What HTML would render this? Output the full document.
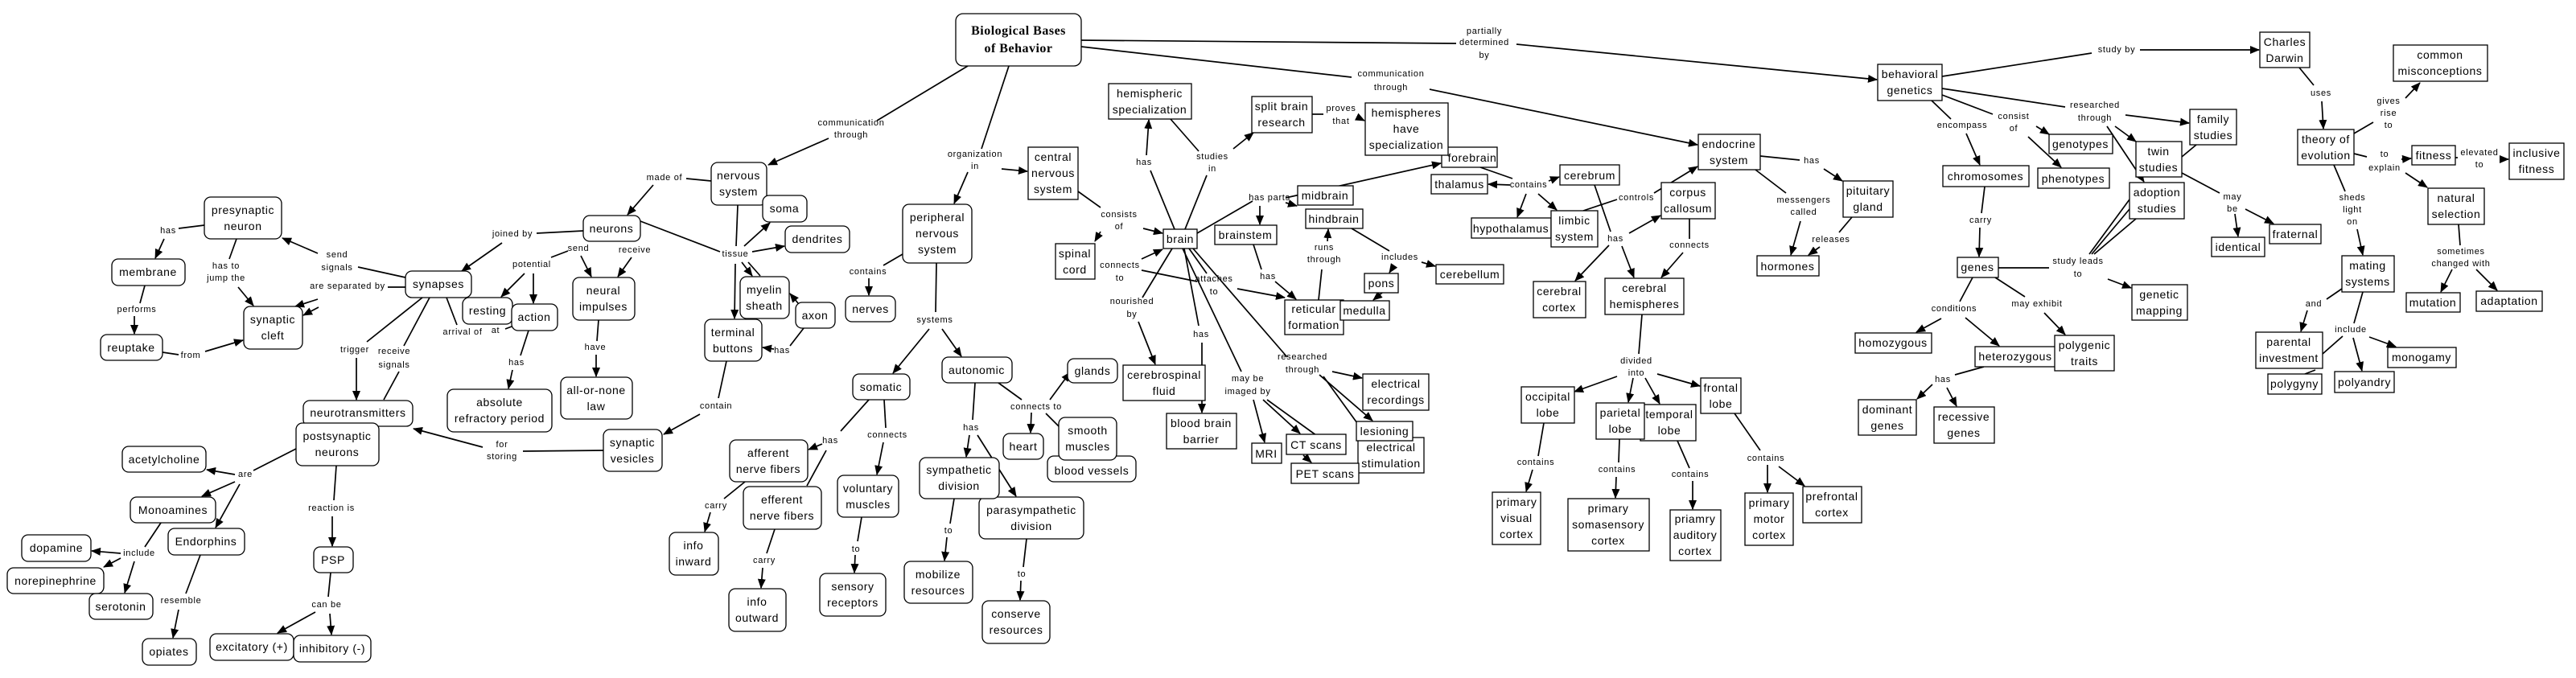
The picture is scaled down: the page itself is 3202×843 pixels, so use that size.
<!DOCTYPE html>
<html><head><meta charset="utf-8"><style>
html,body{margin:0;padding:0;background:#fff;}
svg{display:block;}
.l{stroke:#000;stroke-width:1.7;fill:none;}
.a{stroke:#000;stroke-width:1.7;fill:none;marker-end:url(#ar);}
.r,.s{fill:#fff;stroke:#000;stroke-width:1.3;}
.n{font-family:"Liberation Sans",sans-serif;font-size:14px;letter-spacing:0.6px;text-anchor:middle;dominant-baseline:central;fill:#000;}
.t{font-family:"Liberation Sans",sans-serif;font-size:11px;letter-spacing:0.7px;text-anchor:middle;dominant-baseline:central;fill:#000;}
.b{font-family:"Liberation Serif",serif;font-size:16px;font-weight:bold;letter-spacing:0.5px;text-anchor:middle;dominant-baseline:central;}
</style></head><body>
<svg width="3202" height="843" viewBox="0 0 3202 843" xmlns="http://www.w3.org/2000/svg">
<defs><marker id="ar" markerUnits="userSpaceOnUse" markerWidth="12" markerHeight="10" refX="11" refY="5" orient="auto"><path d="M0,0 L12,5 L0,10 z" fill="#000"/></marker></defs>
<rect width="3202" height="843" fill="#fff"/>
<!-- edges -->
<path class="l" d="M1203,82 L1090,150"/><path class="a" d="M1030,172 L955,205"/>
<path class="l" d="M1254,82 L1220,185"/><path class="a" d="M1203,214 L1186,253"/><path class="a" d="M1245,210 L1277,213"/>
<path class="l" d="M1344,50 L1810,54"/><path class="a" d="M1885,55 L2333,99"/>
<path class="l" d="M1344,58 L1680,96"/><path class="a" d="M1777,111 L2110,180"/>
<path class="l" d="M884,225 L853,222"/><path class="a" d="M812,230 L780,267"/>
<path class="l" d="M796,275 L895,313"/><path class="l" d="M917,255 L915,306"/>
<path class="a" d="M925,306 L957,277"/><path class="a" d="M935,313 L975,306"/><path class="a" d="M922,326 L935,343"/><path class="a" d="M914,328 L913,396"/><path class="l" d="M930,326 L945,343"/>
<path class="a" d="M992,377 L982,365"/><path class="l" d="M999,408 L982,430"/><path class="a" d="M962,434 L948,432"/>
<path class="l" d="M725,287 L667,290"/><path class="a" d="M624,302 L574,337"/>
<path class="a" d="M722,318 L735,344"/><path class="a" d="M785,320 L768,344"/><path class="l" d="M706,312 L685,320"/>
<path class="a" d="M652,340 L623,369"/><path class="a" d="M663,340 L663,377"/>
<path class="l" d="M657,411 L647,442"/><path class="a" d="M637,460 L632,483"/>
<path class="l" d="M744,398 L742,424"/><path class="a" d="M741,441 L741,468"/>
<path class="l" d="M555,370 L568,404"/><path class="l" d="M628,409 L636,406"/>
<path class="l" d="M903,449 L893,495"/><path class="a" d="M870,515 L825,540"/>
<path class="l" d="M750,560 L650,561"/><path class="a" d="M600,556 L514,533"/>
<path class="l" d="M504,345 L445,332"/><path class="a" d="M395,315 L351,296"/>
<path class="l" d="M504,357 L482,357"/><path class="a" d="M395,372 L367,381"/><path class="a" d="M396,382 L377,392"/>
<path class="l" d="M254,280 L222,284"/><path class="a" d="M204,297 L193,321"/>
<path class="l" d="M294,297 L285,322"/><path class="a" d="M296,357 L315,380"/>
<path class="l" d="M180,355 L174,377"/><path class="a" d="M167,393 L167,415"/>
<path class="l" d="M202,438 L222,441"/><path class="a" d="M255,437 L302,423"/>
<path class="l" d="M525,370 L456,425"/><path class="a" d="M443,445 L443,497"/>
<path class="l" d="M534,370 L502,430"/><path class="l" d="M496,462 L477,497"/>
<path class="l" d="M368,558 L315,585"/><path class="a" d="M292,590 L257,584"/><path class="a" d="M292,599 L251,617"/><path class="a" d="M298,602 L268,656"/>
<path class="l" d="M200,650 L180,680"/><path class="a" d="M150,688 L114,685"/><path class="a" d="M150,694 L129,705"/><path class="a" d="M167,698 L155,737"/>
<path class="l" d="M249,690 L231,738"/><path class="a" d="M222,758 L215,793"/>
<path class="l" d="M418,579 L415,622"/><path class="a" d="M413,642 L413,679"/>
<path class="l" d="M411,712 L408,742"/><path class="a" d="M392,761 L345,787"/><path class="a" d="M410,763 L412,789"/>
<path class="l" d="M1122,316 L1098,330"/><path class="a" d="M1080,346 L1080,367"/>
<path class="l" d="M1164,327 L1163,388"/><path class="a" d="M1155,409 L1110,464"/><path class="a" d="M1171,409 L1195,443"/>
<path class="l" d="M1080,497 L1045,536"/><path class="a" d="M1022,552 L1005,559"/><path class="l" d="M1027,560 L1003,604"/>
<path class="l" d="M1099,497 L1101,532"/><path class="a" d="M1098,550 L1090,590"/>
<path class="l" d="M1071,643 L1066,673"/><path class="a" d="M1063,690 L1062,712"/>
<path class="l" d="M926,599 L900,620"/><path class="a" d="M883,637 L876,661"/>
<path class="l" d="M963,658 L953,688"/><path class="a" d="M948,706 L946,731"/>
<path class="l" d="M1212,476 L1209,522"/><path class="a" d="M1205,541 L1201,568"/><path class="a" d="M1215,541 L1263,617"/>
<path class="l" d="M1241,476 L1270,497"/><path class="a" d="M1305,497 L1330,463"/><path class="a" d="M1282,513 L1281,538"/><path class="l" d="M1300,514 L1316,530"/>
<path class="l" d="M1186,620 L1181,651"/><path class="a" d="M1177,668 L1174,697"/>
<path class="l" d="M1276,670 L1272,705"/><path class="a" d="M1269,722 L1268,746"/>
<path class="l" d="M1340,238 L1368,258"/><path class="a" d="M1421,284 L1445,290"/><path class="a" d="M1368,288 L1361,300"/>
<path class="a" d="M1419,322 L1445,310"/>
<path class="l" d="M1460,285 L1430,212"/><path class="a" d="M1425,193 L1428,149"/>
<path class="l" d="M1455,148 L1490,188"/><path class="l" d="M1500,218 L1473,285"/><path class="a" d="M1533,185 L1558,165"/>
<path class="l" d="M1631,142 L1645,142"/><path class="a" d="M1690,147 L1696,150"/>
<path class="l" d="M1488,290 L1557,250"/><path class="a" d="M1598,246 L1791,203"/><path class="a" d="M1566,256 L1566,279"/><path class="a" d="M1598,252 L1612,256"/>
<path class="l" d="M1558,304 L1568,335"/><path class="a" d="M1585,350 L1611,372"/>
<path class="l" d="M1643,335 L1639,373"/><path class="a" d="M1650,300 L1651,285"/>
<path class="l" d="M1680,284 L1727,312"/><path class="a" d="M1733,330 L1727,339"/><path class="a" d="M1767,326 L1784,331"/><path class="a" d="M1718,364 L1707,373"/>
<path class="l" d="M1478,309 L1500,340"/><path class="l" d="M1419,336 L1488,350"/><path class="a" d="M1538,359 L1597,370"/>
<path class="l" d="M1483,309 L1600,444"/><path class="a" d="M1656,462 L1693,470"/><path class="a" d="M1640,466 L1706,523"/><path class="l" d="M1645,468 L1700,544"/>
<path class="l" d="M1470,309 L1543,462"/><path class="a" d="M1558,497 L1572,550"/><path class="a" d="M1570,497 L1616,539"/><path class="l" d="M1575,497 L1640,544"/><path class="a" d="M1620,566 L1630,575"/>
<path class="l" d="M1457,309 L1420,370"/><path class="a" d="M1415,400 L1436,453"/>
<path class="l" d="M1472,309 L1490,405"/><path class="a" d="M1494,426 L1494,513"/>
<path class="l" d="M1840,208 L1880,222"/><path class="a" d="M1877,230 L1850,229"/><path class="a" d="M1897,241 L1886,270"/><path class="a" d="M1912,241 L1935,261"/><path class="a" d="M1925,225 L1938,220"/>
<path class="l" d="M1982,230 L2002,288"/><path class="a" d="M2000,305 L1958,349"/><path class="a" d="M2016,306 L2031,345"/><path class="a" d="M2025,290 L2064,268"/>
<path class="l" d="M1968,262 L2010,248"/><path class="a" d="M2056,240 L2110,207"/>
<path class="l" d="M2100,272 L2100,297"/><path class="a" d="M2092,314 L2065,345"/>
<path class="l" d="M2041,391 L2037,440"/><path class="a" d="M2010,468 L1957,487"/><path class="a" d="M2030,470 L2024,500"/><path class="a" d="M2045,470 L2063,502"/><path class="a" d="M2060,465 L2113,480"/>
<path class="l" d="M1919,526 L1912,567"/><path class="a" d="M1905,584 L1897,611"/>
<path class="l" d="M2013,546 L2012,575"/><path class="a" d="M2009,593 L2008,619"/>
<path class="l" d="M2085,548 L2100,582"/><path class="a" d="M2104,598 L2104,633"/>
<path class="l" d="M2156,514 L2188,560"/><path class="a" d="M2197,578 L2197,612"/><path class="a" d="M2211,580 L2243,604"/>
<path class="l" d="M2188,194 L2237,199"/><path class="a" d="M2267,210 L2290,225"/>
<path class="l" d="M2182,211 L2220,240"/><path class="a" d="M2238,275 L2226,317"/>
<path class="l" d="M2302,270 L2286,289"/><path class="a" d="M2262,307 L2248,317"/>
<path class="l" d="M2414,95 L2600,66"/><path class="a" d="M2660,62 L2808,62"/>
<path class="l" d="M2401,125 L2425,148"/><path class="a" d="M2444,166 L2461,205"/>
<path class="l" d="M2414,118 L2477,142"/><path class="a" d="M2531,157 L2547,167"/><path class="a" d="M2521,170 L2562,208"/>
<path class="l" d="M2414,110 L2567,133"/><path class="a" d="M2642,143 L2721,153"/><path class="a" d="M2629,157 L2655,176"/><path class="a" d="M2619,157 L2665,226"/>
<path class="l" d="M2467,232 L2463,265"/><path class="a" d="M2461,283 L2460,319"/>
<path class="l" d="M2484,333 L2547,333"/><path class="a" d="M2620,347 L2649,358"/>
<path class="l" d="M2597,316 L2647,248"/><path class="l" d="M2600,316 L2647,260"/><path class="l" d="M2603,316 L2655,272"/>
<path class="l" d="M2452,345 L2436,375"/><path class="a" d="M2413,396 L2382,413"/><path class="a" d="M2443,395 L2485,430"/>
<path class="l" d="M2480,345 L2517,369"/><path class="a" d="M2541,389 L2567,416"/>
<path class="l" d="M2466,456 L2430,466"/><path class="a" d="M2402,478 L2383,496"/><path class="a" d="M2420,482 L2432,505"/>
<path class="l" d="M2712,215 L2759,240"/><path class="a" d="M2778,266 L2782,294"/><path class="a" d="M2791,260 L2826,278"/>
<path class="l" d="M2730,180 L2712,195"/>
<path class="l" d="M2858,84 L2876,106"/><path class="a" d="M2886,126 L2888,160"/>
<path class="l" d="M2926,166 L2950,152"/><path class="a" d="M2990,122 L3008,103"/>
<path class="l" d="M2926,191 L2942,195"/><path class="a" d="M2985,198 L2997,197"/><path class="a" d="M2990,215 L3017,233"/>
<path class="l" d="M3052,196 L3055,196"/><path class="a" d="M3110,198 L3118,198"/>
<path class="l" d="M2901,205 L2915,238"/><path class="a" d="M2930,285 L2937,317"/>
<path class="l" d="M3056,279 L3058,305"/><path class="a" d="M3048,335 L3034,363"/><path class="a" d="M3078,335 L3104,361"/>
<path class="l" d="M2911,359 L2892,372"/><path class="a" d="M2868,386 L2860,412"/>
<path class="l" d="M2937,363 L2926,402"/><path class="a" d="M2925,420 L2936,461"/><path class="a" d="M2945,419 L2978,431"/><path class="l" d="M2912,418 L2887,440"/><path class="l" d="M2878,460 L2865,465"/>
<!-- rounded nodes -->
<g class="r">
<rect x="254" y="245" width="96" height="52" rx="8"/><rect x="139" y="322" width="91" height="33" rx="8"/><rect x="125" y="416" width="77" height="32" rx="8"/><rect x="303" y="381" width="73" height="53" rx="8"/><rect x="504" y="337" width="82" height="33" rx="8"/><rect x="377" y="498" width="136" height="32" rx="8"/><rect x="368" y="526" width="103" height="53" rx="8"/><rect x="152" y="555" width="104" height="32" rx="8"/><rect x="162" y="618" width="106" height="32" rx="8"/><rect x="209" y="657" width="95" height="33" rx="8"/><rect x="27" y="665" width="86" height="33" rx="8"/><rect x="9" y="706" width="120" height="32" rx="8"/><rect x="111" y="738" width="79" height="32" rx="8"/><rect x="177" y="794" width="67" height="33" rx="8"/><rect x="390" y="680" width="49" height="32" rx="8"/><rect x="261" y="788" width="104" height="33" rx="8"/><rect x="365" y="790" width="96" height="33" rx="8"/>
<rect x="884" y="202" width="69" height="53" rx="8"/><rect x="948" y="243" width="55" height="33" rx="8"/><rect x="976" y="281" width="80" height="33" rx="8"/><rect x="725" y="268" width="71" height="32" rx="8"/><rect x="575" y="370" width="62" height="33" rx="8"/><rect x="636" y="378" width="57" height="33" rx="8"/><rect x="712" y="345" width="77" height="53" rx="8"/><rect x="920" y="344" width="61" height="52" rx="8"/><rect x="989" y="376" width="49" height="32" rx="8"/><rect x="876" y="397" width="71" height="52" rx="8"/><rect x="556" y="484" width="130" height="53" rx="8"/><rect x="697" y="469" width="89" height="52" rx="8"/><rect x="750" y="534" width="73" height="52" rx="8"/><rect x="907" y="547" width="97" height="52" rx="8"/><rect x="924" y="605" width="97" height="53" rx="8"/><rect x="832" y="662" width="61" height="53" rx="8"/><rect x="906" y="732" width="71" height="53" rx="8"/>
<rect x="1188" y="17" width="156" height="65" rx="9"/><rect x="1122" y="254" width="86" height="73" rx="8"/><rect x="1051" y="368" width="62" height="32" rx="8"/><rect x="1060" y="465" width="71" height="32" rx="8"/><rect x="1171" y="444" width="87" height="32" rx="8"/><rect x="1041" y="591" width="76" height="52" rx="8"/><rect x="1019" y="713" width="82" height="53" rx="8"/><rect x="1217" y="618" width="130" height="52" rx="8"/><rect x="1143" y="569" width="99" height="51" rx="8"/><rect x="1124" y="698" width="85" height="52" rx="8"/><rect x="1221" y="747" width="84" height="53" rx="8"/><rect x="1247" y="539" width="50" height="32" rx="8"/><rect x="1327" y="446" width="62" height="30" rx="8"/><rect x="1302" y="567" width="110" height="32" rx="8"/><rect x="1316" y="519" width="72" height="53" rx="8"/>
</g>
<!-- square nodes -->
<g class="s">
<rect x="1278" y="183" width="62" height="65"/><rect x="1378" y="104" width="103" height="44"/><rect x="1556" y="120" width="75" height="45"/><rect x="1312" y="303" width="49" height="44"/><rect x="1446" y="285" width="42" height="24"/><rect x="1510" y="280" width="77" height="24"/><rect x="1396" y="454" width="102" height="44"/><rect x="1450" y="514" width="87" height="44"/><rect x="1556" y="551" width="37" height="25"/>
<rect x="1792" y="183" width="69" height="25"/><rect x="1697" y="128" width="103" height="65"/><rect x="1779" y="217" width="70" height="24"/><rect x="1613" y="231" width="69" height="24"/><rect x="1623" y="260" width="71" height="24"/><rect x="1597" y="373" width="73" height="43"/><rect x="1666" y="374" width="61" height="24"/><rect x="1696" y="340" width="42" height="24"/><rect x="1785" y="329" width="84" height="24"/><rect x="1829" y="271" width="99" height="25"/><rect x="1928" y="262" width="58" height="45"/><rect x="1939" y="205" width="74" height="25"/><rect x="2065" y="227" width="67" height="45"/><rect x="2111" y="167" width="77" height="44"/><rect x="1906" y="350" width="65" height="45"/><rect x="1995" y="346" width="98" height="45"/><rect x="1891" y="481" width="66" height="45"/><rect x="2039" y="503" width="69" height="45"/><rect x="1984" y="501" width="60" height="45"/><rect x="2114" y="470" width="50" height="44"/><rect x="1855" y="612" width="60" height="65"/><rect x="1949" y="620" width="101" height="65"/><rect x="2076" y="634" width="63" height="63"/><rect x="1694" y="465" width="82" height="45"/><rect x="1688" y="544" width="82" height="44"/><rect x="1686" y="524" width="70" height="24"/><rect x="1605" y="576" width="84" height="25"/><rect x="1599" y="540" width="74" height="25"/>
<rect x="2334" y="80" width="80" height="45"/><rect x="2291" y="225" width="62" height="45"/><rect x="2184" y="318" width="77" height="25"/><rect x="2415" y="206" width="107" height="26"/><rect x="2547" y="167" width="79" height="24"/><rect x="2533" y="209" width="89" height="25"/><rect x="2433" y="320" width="51" height="25"/><rect x="2306" y="414" width="95" height="25"/><rect x="2455" y="431" width="100" height="25"/><rect x="2554" y="417" width="74" height="44"/><rect x="2310" y="497" width="72" height="44"/><rect x="2404" y="506" width="75" height="45"/><rect x="2169" y="613" width="60" height="65"/><rect x="2241" y="605" width="73" height="45"/><rect x="2650" y="354" width="69" height="44"/><rect x="2647" y="227" width="68" height="45"/><rect x="2655" y="176" width="57" height="44"/>
<rect x="2809" y="40" width="62" height="44"/><rect x="2975" y="56" width="117" height="45"/><rect x="2722" y="136" width="58" height="44"/><rect x="2856" y="161" width="70" height="44"/><rect x="2998" y="181" width="54" height="24"/><rect x="3119" y="178" width="68" height="45"/><rect x="3018" y="234" width="70" height="45"/><rect x="2749" y="295" width="66" height="24"/><rect x="2821" y="279" width="64" height="24"/><rect x="2911" y="318" width="65" height="45"/><rect x="2991" y="364" width="67" height="24"/><rect x="3078" y="362" width="82" height="25"/><rect x="2819" y="465" width="67" height="25"/><rect x="2804" y="413" width="83" height="45"/><rect x="2902" y="462" width="74" height="26"/><rect x="2968" y="432" width="85" height="25"/>
</g>
<!-- node text -->
<g class="n">
<text x="302" y="271"><tspan x="302" dy="-10">presynaptic</tspan><tspan x="302" dy="20">neuron</tspan></text>
<text x="184" y="338">membrane</text><text x="163" y="432">reuptake</text>
<text x="339" y="407"><tspan x="339" dy="-10">synaptic</tspan><tspan x="339" dy="20">cleft</tspan></text>
<text x="545" y="353">synapses</text><text x="445" y="513">neurotransmitters</text>
<text x="419" y="552"><tspan x="419" dy="-10">postsynaptic</tspan><tspan x="419" dy="20">neurons</tspan></text>
<text x="204" y="571">acetylcholine</text><text x="215" y="634">Monoamines</text><text x="256" y="673">Endorphins</text><text x="70" y="681">dopamine</text><text x="69" y="722">norepinephrine</text><text x="150" y="754">serotonin</text><text x="210" y="810">opiates</text><text x="414" y="696">PSP</text><text x="313" y="804">excitatory (+)</text><text x="413" y="806">inhibitory (-)</text>
<text x="918" y="228"><tspan x="918" dy="-10">nervous</tspan><tspan x="918" dy="20">system</tspan></text>
<text x="975" y="259">soma</text><text x="1016" y="297">dendrites</text><text x="760" y="284">neurons</text><text x="606" y="386">resting</text><text x="664" y="394">action</text>
<text x="750" y="371"><tspan x="750" dy="-10">neural</tspan><tspan x="750" dy="20">impulses</tspan></text>
<text x="950" y="370"><tspan x="950" dy="-10">myelin</tspan><tspan x="950" dy="20">sheath</tspan></text>
<text x="1013" y="392">axon</text>
<text x="911" y="423"><tspan x="911" dy="-10">terminal</tspan><tspan x="911" dy="20">buttons</tspan></text>
<text x="621" y="510"><tspan x="621" dy="-10">absolute</tspan><tspan x="621" dy="20">refractory period</tspan></text>
<text x="741" y="495"><tspan x="741" dy="-10">all-or-none</tspan><tspan x="741" dy="20">law</tspan></text>
<text x="786" y="560"><tspan x="786" dy="-10">synaptic</tspan><tspan x="786" dy="20">vesicles</tspan></text>
<text x="955" y="573"><tspan x="955" dy="-10">afferent</tspan><tspan x="955" dy="20">nerve fibers</tspan></text>
<text x="972" y="631"><tspan x="972" dy="-10">efferent</tspan><tspan x="972" dy="20">nerve fibers</tspan></text>
<text x="862" y="688"><tspan x="862" dy="-10">info</tspan><tspan x="862" dy="20">inward</tspan></text>
<text x="941" y="758"><tspan x="941" dy="-10">info</tspan><tspan x="941" dy="20">outward</tspan></text>
<text x="1165" y="290"><tspan x="1165" dy="-20">peripheral</tspan><tspan x="1165" dy="20">nervous</tspan><tspan x="1165" dy="20">system</tspan></text>
<text x="1082" y="384">nerves</text><text x="1095" y="481">somatic</text><text x="1214" y="460">autonomic</text>
<text x="1079" y="617"><tspan x="1079" dy="-10">voluntary</tspan><tspan x="1079" dy="20">muscles</tspan></text>
<text x="1060" y="739"><tspan x="1060" dy="-10">sensory</tspan><tspan x="1060" dy="20">receptors</tspan></text>
<text x="1282" y="644"><tspan x="1282" dy="-10">parasympathetic</tspan><tspan x="1282" dy="20">division</tspan></text>
<text x="1192" y="594"><tspan x="1192" dy="-10">sympathetic</tspan><tspan x="1192" dy="20">division</tspan></text>
<text x="1166" y="724"><tspan x="1166" dy="-10">mobilize</tspan><tspan x="1166" dy="20">resources</tspan></text>
<text x="1263" y="773"><tspan x="1263" dy="-10">conserve</tspan><tspan x="1263" dy="20">resources</tspan></text>
<text x="1272" y="555">heart</text><text x="1358" y="461">glands</text><text x="1357" y="585">blood vessels</text>
<text x="1352" y="545"><tspan x="1352" dy="-10">smooth</tspan><tspan x="1352" dy="20">muscles</tspan></text>
<text x="1309" y="215"><tspan x="1309" dy="-20">central</tspan><tspan x="1309" dy="20">nervous</tspan><tspan x="1309" dy="20">system</tspan></text>
<text x="1429" y="126"><tspan x="1429" dy="-10">hemispheric</tspan><tspan x="1429" dy="20">specialization</tspan></text>
<text x="1593" y="142"><tspan x="1593" dy="-10">split brain</tspan><tspan x="1593" dy="20">research</tspan></text>
<text x="1336" y="325"><tspan x="1336" dy="-10">spinal</tspan><tspan x="1336" dy="20">cord</tspan></text>
<text x="1467" y="297">brain</text><text x="1548" y="292">brainstem</text>
<text x="1447" y="476"><tspan x="1447" dy="-10">cerebrospinal</tspan><tspan x="1447" dy="20">fluid</tspan></text>
<text x="1493" y="536"><tspan x="1493" dy="-10">blood brain</tspan><tspan x="1493" dy="20">barrier</tspan></text>
<text x="1574" y="564">MRI</text><text x="1830" y="196">forebrain</text>
<text x="1748" y="160"><tspan x="1748" dy="-20">hemispheres</tspan><tspan x="1748" dy="20">have</tspan><tspan x="1748" dy="20">specialization</tspan></text>
<text x="1814" y="229">thalamus</text><text x="1647" y="243">midbrain</text><text x="1658" y="272">hindbrain</text>
<text x="1633" y="394"><tspan x="1633" dy="-10">reticular</tspan><tspan x="1633" dy="20">formation</tspan></text>
<text x="1696" y="386">medulla</text><text x="1717" y="352">pons</text><text x="1827" y="341">cerebellum</text><text x="1878" y="284">hypothalamus</text>
<text x="1957" y="284"><tspan x="1957" dy="-10">limbic</tspan><tspan x="1957" dy="20">system</tspan></text>
<text x="1976" y="218">cerebrum</text>
<text x="2098" y="249"><tspan x="2098" dy="-10">corpus</tspan><tspan x="2098" dy="20">callosum</tspan></text>
<text x="2149" y="189"><tspan x="2149" dy="-10">endocrine</tspan><tspan x="2149" dy="20">system</tspan></text>
<text x="1938" y="372"><tspan x="1938" dy="-10">cerebral</tspan><tspan x="1938" dy="20">cortex</tspan></text>
<text x="2044" y="368"><tspan x="2044" dy="-10">cerebral</tspan><tspan x="2044" dy="20">hemispheres</tspan></text>
<text x="1924" y="503"><tspan x="1924" dy="-10">occipital</tspan><tspan x="1924" dy="20">lobe</tspan></text>
<text x="2075" y="525"><tspan x="2075" dy="-10">temporal</tspan><tspan x="2075" dy="20">lobe</tspan></text>
<text x="2014" y="523"><tspan x="2014" dy="-10">parietal</tspan><tspan x="2014" dy="20">lobe</tspan></text>
<text x="2139" y="492"><tspan x="2139" dy="-10">frontal</tspan><tspan x="2139" dy="20">lobe</tspan></text>
<text x="1885" y="644"><tspan x="1885" dy="-20">primary</tspan><tspan x="1885" dy="20">visual</tspan><tspan x="1885" dy="20">cortex</tspan></text>
<text x="1999" y="652"><tspan x="1999" dy="-20">primary</tspan><tspan x="1999" dy="20">somasensory</tspan><tspan x="1999" dy="20">cortex</tspan></text>
<text x="2107" y="665"><tspan x="2107" dy="-20">priamry</tspan><tspan x="2107" dy="20">auditory</tspan><tspan x="2107" dy="20">cortex</tspan></text>
<text x="1735" y="487"><tspan x="1735" dy="-10">electrical</tspan><tspan x="1735" dy="20">recordings</tspan></text>
<text x="1729" y="566"><tspan x="1729" dy="-10">electrical</tspan><tspan x="1729" dy="20">stimulation</tspan></text>
<text x="1721" y="536">lesioning</text><text x="1647" y="589">PET scans</text><text x="1636" y="553">CT scans</text>
<text x="2374" y="102"><tspan x="2374" dy="-10">behavioral</tspan><tspan x="2374" dy="20">genetics</tspan></text>
<text x="2322" y="247"><tspan x="2322" dy="-10">pituitary</tspan><tspan x="2322" dy="20">gland</tspan></text>
<text x="2222" y="331">hormones</text><text x="2468" y="219">chromosomes</text><text x="2586" y="179">genotypes</text><text x="2577" y="222">phenotypes</text><text x="2458" y="332">genes</text><text x="2353" y="426">homozygous</text><text x="2505" y="443">heterozygous</text>
<text x="2591" y="439"><tspan x="2591" dy="-10">polygenic</tspan><tspan x="2591" dy="20">traits</tspan></text>
<text x="2346" y="519"><tspan x="2346" dy="-10">dominant</tspan><tspan x="2346" dy="20">genes</tspan></text>
<text x="2441" y="528"><tspan x="2441" dy="-10">recessive</tspan><tspan x="2441" dy="20">genes</tspan></text>
<text x="2199" y="645"><tspan x="2199" dy="-20">primary</tspan><tspan x="2199" dy="20">motor</tspan><tspan x="2199" dy="20">cortex</tspan></text>
<text x="2277" y="627"><tspan x="2277" dy="-10">prefrontal</tspan><tspan x="2277" dy="20">cortex</tspan></text>
<text x="2684" y="376"><tspan x="2684" dy="-10">genetic</tspan><tspan x="2684" dy="20">mapping</tspan></text>
<text x="2681" y="249"><tspan x="2681" dy="-10">adoption</tspan><tspan x="2681" dy="20">studies</tspan></text>
<text x="2683" y="198"><tspan x="2683" dy="-10">twin</tspan><tspan x="2683" dy="20">studies</tspan></text>
<text x="2840" y="62"><tspan x="2840" dy="-10">Charles</tspan><tspan x="2840" dy="20">Darwin</tspan></text>
<text x="3033" y="78"><tspan x="3033" dy="-10">common</tspan><tspan x="3033" dy="20">misconceptions</tspan></text>
<text x="2751" y="158"><tspan x="2751" dy="-10">family</tspan><tspan x="2751" dy="20">studies</tspan></text>
<text x="2891" y="183"><tspan x="2891" dy="-10">theory of</tspan><tspan x="2891" dy="20">evolution</tspan></text>
<text x="3025" y="193">fitness</text>
<text x="3153" y="200"><tspan x="3153" dy="-10">inclusive</tspan><tspan x="3153" dy="20">fitness</tspan></text>
<text x="3053" y="256"><tspan x="3053" dy="-10">natural</tspan><tspan x="3053" dy="20">selection</tspan></text>
<text x="2782" y="307">identical</text><text x="2853" y="291">fraternal</text>
<text x="2943" y="340"><tspan x="2943" dy="-10">mating</tspan><tspan x="2943" dy="20">systems</tspan></text>
<text x="3024" y="376">mutation</text><text x="3119" y="374">adaptation</text><text x="2852" y="477">polygyny</text>
<text x="2845" y="435"><tspan x="2845" dy="-10">parental</tspan><tspan x="2845" dy="20">investment</tspan></text>
<text x="2939" y="475">polyandry</text><text x="3010" y="444">monogamy</text>
</g>
<text class="b" x="1266" y="49"><tspan x="1266" dy="-11">Biological Bases</tspan><tspan x="1266" dy="22">of Behavior</tspan></text>
<!-- link labels -->
<g class="t">
<text x="209" y="287">has</text>
<text x="281" y="331">has to</text><text x="281" y="346">jump the</text>
<text x="419" y="317">send</text><text x="419" y="333">signals</text>
<text x="432" y="356">are separated by</text>
<text x="170" y="385">performs</text><text x="237" y="442">from</text>
<text x="441" y="435">trigger</text>
<text x="490" y="437">receive</text><text x="490" y="454">signals</text>
<text x="305" y="590">are</text><text x="173" y="688">include</text><text x="225" y="747">resemble</text>
<text x="412" y="632">reaction is</text><text x="406" y="752">can be</text>
<text x="826" y="221">made of</text><text x="637" y="291">joined by</text><text x="719" y="309">send</text><text x="789" y="311">receive</text><text x="661" y="329">potential</text><text x="914" y="316">tissue</text>
<text x="575" y="413">arrival of</text><text x="616" y="411">at</text>
<text x="642" y="451">has</text><text x="740" y="432">have</text><text x="890" y="505">contain</text><text x="972" y="436">has</text>
<text x="624" y="553">for</text><text x="624" y="568">storing</text>
<text x="1032" y="548">has</text><text x="890" y="629">carry</text><text x="950" y="697">carry</text><text x="1064" y="683">to</text>
<text x="1058" y="153">communication</text><text x="1058" y="168">through</text>
<text x="1212" y="192">organization</text><text x="1212" y="207">in</text>
<text x="1079" y="338">contains</text><text x="1162" y="398">systems</text><text x="1103" y="541">connects</text>
<text x="1207" y="532">has</text><text x="1179" y="660">to</text><text x="1270" y="714">to</text><text x="1288" y="506">connects to</text>
<text x="1422" y="202">has</text>
<text x="1507" y="195">studies</text><text x="1507" y="210">in</text>
<text x="1391" y="267">consists</text><text x="1391" y="282">of</text>
<text x="1392" y="330">connects</text><text x="1392" y="346">to</text>
<text x="1407" y="375">nourished</text><text x="1407" y="391">by</text>
<text x="1493" y="416">has</text>
<text x="1509" y="347">attaches</text><text x="1509" y="363">to</text>
<text x="1551" y="471">may be</text><text x="1551" y="487">imaged by</text>
<text x="1578" y="246">has parts</text>
<text x="1845" y="39">partially</text><text x="1845" y="53">determined</text><text x="1845" y="69">by</text>
<text x="1729" y="92">communication</text><text x="1729" y="109">through</text>
<text x="1667" y="135">proves</text><text x="1667" y="151">that</text>
<text x="1900" y="230">contains</text><text x="2034" y="246">controls</text><text x="2008" y="297">has</text><text x="2100" y="305">connects</text>
<text x="1646" y="308">runs</text><text x="1646" y="323">through</text>
<text x="1740" y="320">includes</text><text x="1576" y="344">has</text>
<text x="1619" y="444">researched</text><text x="1619" y="460">through</text>
<text x="2034" y="449">divided</text><text x="2034" y="464">into</text>
<text x="1909" y="575">contains</text><text x="2010" y="584">contains</text><text x="2101" y="590">contains</text>
<text x="2252" y="200">has</text>
<text x="2242" y="249">messengers</text><text x="2242" y="264">called</text>
<text x="2276" y="298">releases</text><text x="2631" y="62">study by</text><text x="2439" y="156">encompass</text>
<text x="2503" y="145">consist</text><text x="2503" y="160">of</text>
<text x="2604" y="131">researched</text><text x="2604" y="147">through</text>
<text x="2462" y="274">carry</text>
<text x="2583" y="325">study leads</text><text x="2583" y="341">to</text>
<text x="2429" y="384">conditions</text><text x="2532" y="378">may exhibit</text><text x="2415" y="472">has</text><text x="2195" y="570">contains</text>
<text x="2885" y="116">uses</text>
<text x="2969" y="126">gives</text><text x="2969" y="141">rise</text><text x="2969" y="156">to</text>
<text x="2964" y="192">to</text><text x="2964" y="209">explain</text>
<text x="3082" y="190">elevated</text><text x="3082" y="205">to</text>
<text x="2775" y="245">may</text><text x="2775" y="260">be</text>
<text x="2924" y="246">sheds</text><text x="2924" y="261">light</text><text x="2924" y="276">on</text>
<text x="3059" y="313">sometimes</text><text x="3059" y="328">changed with</text>
<text x="2876" y="378">and</text><text x="2922" y="410">include</text>
</g>
</svg>
</body></html>
